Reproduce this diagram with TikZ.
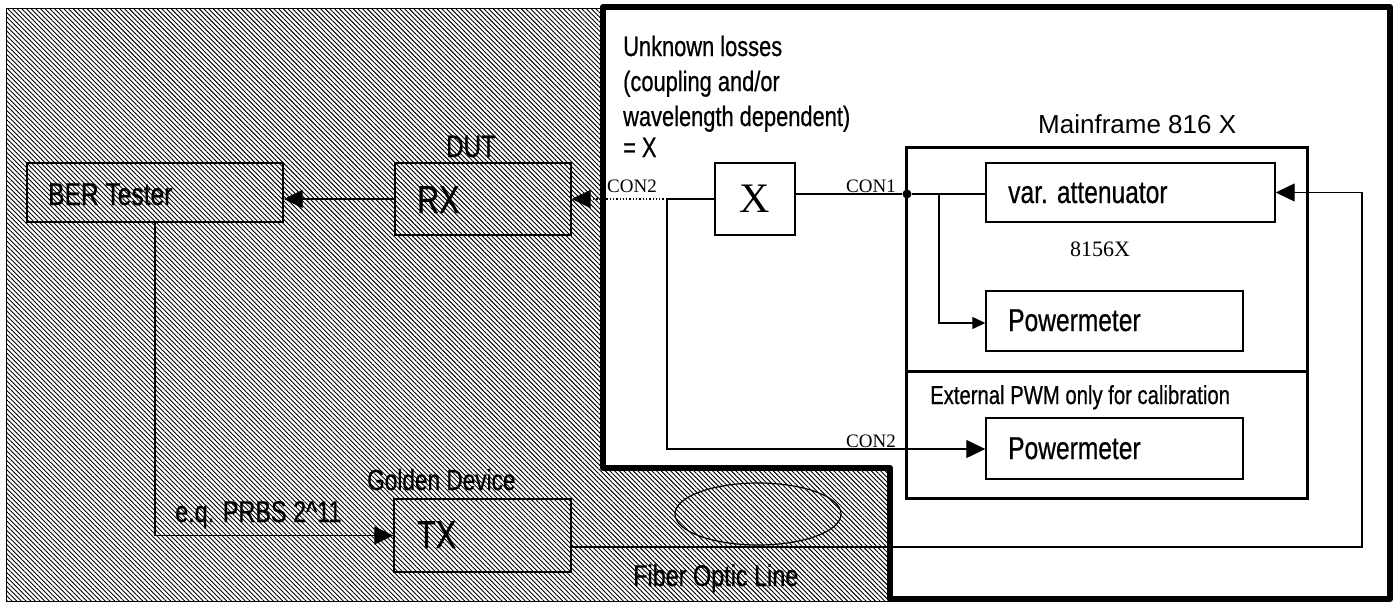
\documentclass[tikz,border=0pt]{standalone}
\usepackage{fontspec}
\setmainfont{Liberation Sans}
\newfontfamily\cond[FakeStretch=0.78,FakeBold=0.6]{Liberation Sans}
\newfontfamily\tms{Liberation Serif}
\usetikzlibrary{arrows.meta,patterns.meta,shapes.geometric}
\begin{document}
\begin{tikzpicture}[x=1pt,y=-1pt,
  box/.style={draw, line width=1.4pt, inner sep=0pt},
  txt/.style={anchor=base west, inner sep=0pt},
  cl/.style={txt, font=\cond\fontsize{31.5}{36}\selectfont},
  big/.style={txt, font=\cond\fontsize{39}{44}\selectfont},
  small/.style={txt, font=\cond\fontsize{28}{30}\selectfont},
  tm/.style={txt, font=\tms\fontsize{19}{22}\selectfont},
  conn/.style={line width=1.3pt},
  bigarr/.style={conn, -{Triangle[length=19pt,width=18pt]}},
  smallarr/.style={conn, -{Triangle[length=13pt,width=12pt]}}]
\useasboundingbox (0,0) rectangle (1395,603);
% hatched area
\fill[pattern={Lines[angle=-45,distance=3.3pt,line width=0.9pt]}]
  (6,8) -- (603,8) -- (603,468) -- (890,468) -- (890,601) -- (6,601) -- cycle;
\draw[line width=1pt] (603,8) -- (6,8) -- (6,601) -- (890,601);
% thick frame
\draw[line width=6pt, line join=round]
  (603,7) -- (1390,7) -- (1390,599) -- (890,599) -- (890,468) -- (603,468) -- cycle;
% boxes
\node[box, minimum width=256pt, minimum height=59pt] (ber) at (155,192.5) {};
\node[box, minimum width=176pt, minimum height=72pt] (rx) at (483,199) {};
\node[box, minimum width=80pt, minimum height=72pt] (xb) at (755,199) {};
\node[draw, line width=3pt, minimum width=401pt, minimum height=351pt, inner sep=0pt] (mf) at (1106.5,322.5) {};
\node[box, minimum width=289pt, minimum height=59pt] (att) at (1130.5,192.5) {};
\node[box, minimum width=257pt, minimum height=60pt] (pm1) at (1114.5,321) {};
\node[box, minimum width=257pt, minimum height=61pt] (pm2) at (1114.5,448.5) {};
\node[box, minimum width=177pt, minimum height=73pt] (tx) at (482.5,535.5) {};
\node[draw, ellipse, line width=1.2pt, minimum width=166pt, minimum height=62pt, inner sep=0pt] (fol) at (758,514) {};
\coordinate (sep) at (0,371);
\draw[line width=3pt] (mf.west |- sep) -- (mf.east |- sep);
% texts
\node[cl] (tber) at (48,205) {BER Tester};
\node[big] (trx) at (417,213) {RX};
\node[cl, anchor=base, font=\cond\fontsize{31}{36}\selectfont] (tdut) at (471,157) {DUT};
\node[txt, font=\tms\fontsize{42}{46}\selectfont, anchor=center] (tx1) at (xb.center) {X};
\node[cl] (tatt) at (1008,203) {var. attenuator};
\node[cl] (tpm1) at (1008,331) {Powermeter};
\node[cl] (tpm2) at (1008,459) {Powermeter};
\node[big] (ttx) at (417,548) {TX};
\node[txt, font=\fontsize{26}{30}\selectfont] (tmf) at (1038,133) {Mainframe 816 X};
\node[small] (tu1) at (623,56) {Unknown losses};
\node[small] (tu2) at (623,91) {(coupling and/or};
\node[small] (tu3) at (623,126) {wavelength dependent)};
\node[small] (tu4) at (623,157) {=\hspace{6pt}X};
\node[small, font=\cond\fontsize{26}{30}\selectfont] (text) at (930,404) {External PWM only for calibration};
\node[cl, font=\cond\fontsize{29}{32}\selectfont] (tgd) at (367,490) {Golden Device};
\node[cl, font=\cond\fontsize{30}{32}\selectfont] (tprbs) at (175,522) {e.q. PRBS 2\textasciicircum 11};
\node[cl, font=\cond\fontsize{30}{32}\selectfont] (tfol) at (633,586) {Fiber Optic Line};
\node[tm] (tcon2a) at (607,192) {CON2};
\node[tm] (tcon1) at (846,192) {CON1};
\node[tm] (tcon2b) at (846,447) {CON2};
\node[tm, font=\tms\fontsize{22}{26}\selectfont] (t8156) at (1070,256) {8156X};
% connectors
\coordinate (j2) at (667,199);
\coordinate (j2b) at (667,449);
\node[circle, fill, inner sep=0pt, minimum size=9pt] (dot) at (907,194) {};
\coordinate (br) at (939,194);
\coordinate (brb) at (939,323);
\coordinate (ftx) at (571,547);
\coordinate (r1) at (1362,547);
\coordinate (r2) at (1362,192.5);
\coordinate (bb) at (155,535.5);
\draw[bigarr] (rx.west) -- (ber.east |- rx.west);
\draw[bigarr, dotted] (j2) -- (rx.east);
\draw[conn] (xb.west) -- (j2);
\draw[bigarr] (j2) -- (j2b) -- (pm2.west |- j2b);
\draw[conn] (xb.east |- dot) -- (dot);
\draw[conn] (dot) -- (att.west |- dot);
\draw[smallarr] (br) -- (brb) -- (pm1.west |- brb);
\draw[bigarr] (ftx) -- (r1) -- (r2) -- (att.east);
\draw[bigarr] (ber.south) -- (bb) -- (tx.west);
\end{tikzpicture}
\end{document}
